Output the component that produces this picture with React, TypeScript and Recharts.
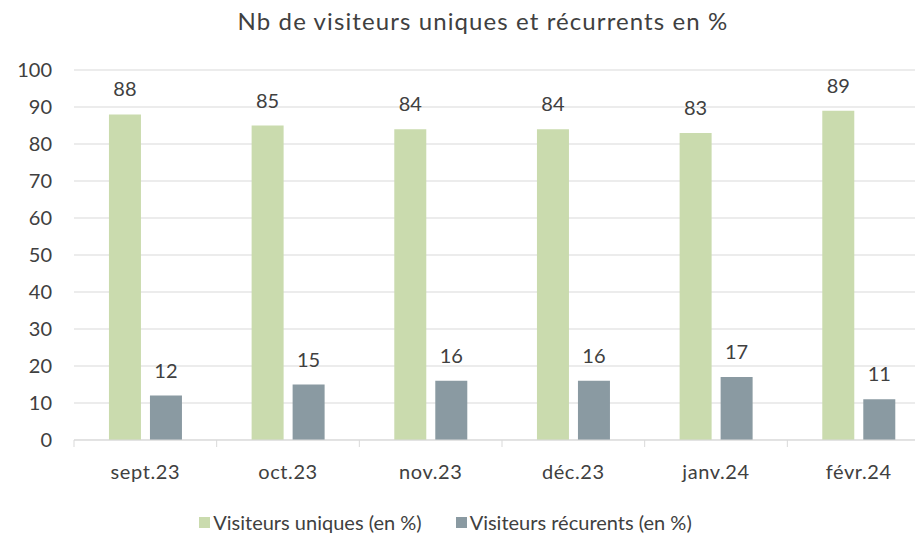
import { BarChart, Bar, XAxis, YAxis, CartesianGrid, LabelList, Legend } from "recharts"

const MONTHS = ["sept.23", "oct.23", "nov.23", "déc.23", "janv.24", "févr.24"]
const UNIQUES = [88, 85, 84, 84, 83, 89]
const RECURRENTS = [12, 15, 16, 16, 17, 11]
const Y_TICKS = [0, 10, 20, 30, 40, 50, 60, 70, 80, 90, 100]

const SERIES = [
  { key: "uniques", label: "Visiteurs uniques (en %)", color: "#cadbae" },
  { key: "recurrents", label: "Visiteurs récurents (en %)", color: "#8a9aa2" },
] as const

const FONT = "Lato, 'Open Sans', sans-serif"
const TEXT = "#404040"
const CHART_W = 935
const PLOT_LEFT = 74
const PLOT_RIGHT = 930
const HALF_BAND = (PLOT_RIGHT - PLOT_LEFT) / MONTHS.length / 2

const data = MONTHS.map((m, i) => ({ month: m, uniques: UNIQUES[i], recurrents: RECURRENTS[i] }))

function MonthTick({ x, y, payload }: { x?: number; y?: number; payload?: { value: string } }) {
  if (x == null || y == null) return null
  return (
    <g>
      <line x1={x - HALF_BAND} x2={x - HALF_BAND} y1={y} y2={y + 7} stroke="#d9d9d9" />
      <text x={x} y={y + 31} textAnchor="middle" dominantBaseline="central" fontSize={20} letterSpacing={0.6} fill={TEXT} fontFamily={FONT}>
        {payload?.value}
      </text>
    </g>
  )
}

function LegendBox() {
  return (
    <div style={{ display: "flex", justifyContent: "center", gap: 34, fontFamily: FONT, fontSize: 20, color: TEXT, paddingRight: 24 }}>
      {SERIES.map(s => (
        <div key={s.key} style={{ display: "flex", alignItems: "center", gap: 3 }}>
          <span style={{ width: 11, height: 11, background: s.color, display: "inline-block" }} />
          <span>{s.label}</span>
        </div>
      ))}
    </div>
  )
}

export default function App() {
  return (
    <div style={{ position: "fixed", left: 0, top: 0, width: 915, height: 535, overflow: "hidden", background: "#fff" }}>
      <div style={{ position: "absolute", left: 0, width: 966, top: 6, textAlign: "center", fontFamily: FONT, fontSize: 24, letterSpacing: 1.1, color: TEXT }}>
        Nb de visiteurs uniques et récurrents en %
      </div>
      <BarChart
        width={CHART_W}
        height={535}
        data={data}
        margin={{ top: 70, right: CHART_W - PLOT_RIGHT, left: 0, bottom: 16 }}
        barCategoryGap="24.5%"
        barGap={9}
      >
        <CartesianGrid vertical={false} stroke="#d9d9d9" />
        <XAxis
          dataKey="month"
          height={55}
          axisLine={{ stroke: "#d9d9d9" }}
          tickLine={false}
          tickSize={0}
          tickMargin={0}
          tick={<MonthTick />}
          interval={0}
        />
        <YAxis
          width={PLOT_LEFT}
          domain={[0, 100]}
          ticks={Y_TICKS}
          axisLine={false}
          tickLine={false}
          tickMargin={16}
          tick={{ fontSize: 20, fill: TEXT, fontFamily: FONT }}
        />
        <Legend
          verticalAlign="bottom"
          content={<LegendBox />}
          wrapperStyle={{ position: "absolute", left: 0, top: 510, width: 915, height: 24 }}
        />
        {SERIES.map(s => (
          <Bar key={s.key} dataKey={s.key} name={s.label} fill={s.color} isAnimationActive={false}>
            <LabelList dataKey={s.key} position="top" offset={18} fontSize={20} fill={TEXT} fontFamily={FONT} />
          </Bar>
        ))}
      </BarChart>
    </div>
  )
}
